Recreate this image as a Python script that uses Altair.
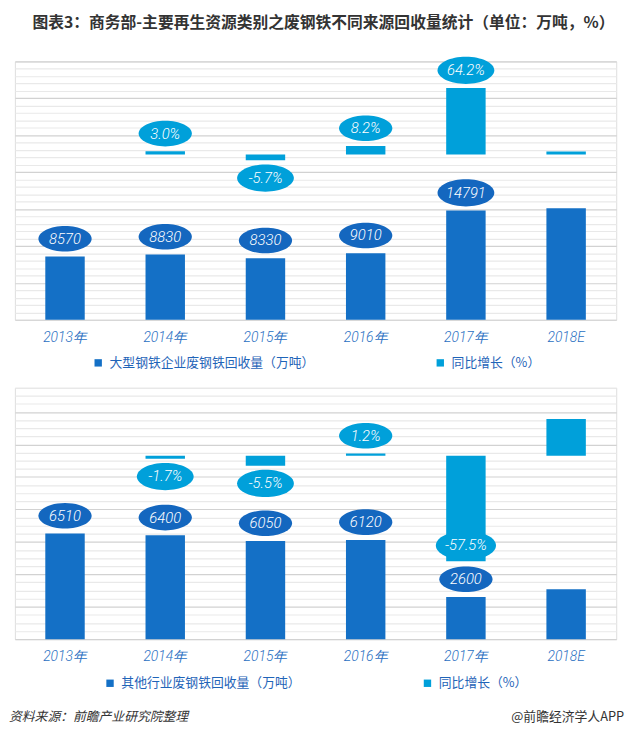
import altair as alt
import pandas as pd

# ---------------- data ----------------
years = ["2013年", "2014年", "2015年", "2016年", "2017年", "2018E"]

big_values = [8570, 8830, 8330, 9010, 14791, 15100]
big_value_labels = ["8570", "8830", "8330", "9010", "14791", ""]
big_growth = [None, 3.0, -5.7, 8.2, 64.2, 2.8]
big_growth_labels = ["", "3.0%", "-5.7%", "8.2%", "64.2%", ""]

other_values = [6510, 6400, 6050, 6120, 2600, 3080]
other_value_labels = ["6510", "6400", "6050", "6120", "2600", ""]
other_growth = [None, -1.7, -5.5, 1.2, -57.5, 20.0]
other_growth_labels = ["", "-1.7%", "-5.5%", "1.2%", "-57.5%", ""]

series_big = "大型钢铁企业废钢铁回收量（万吨）"
series_other = "其他行业废钢铁回收量（万吨）"
series_growth = "同比增长（%）"

title_text = "图表3：商务部-主要再生资源类别之废钢铁不同来源回收量统计（单位：万吨，%）"
source_text = "资料来源：前瞻产业研究院整理"
brand_text = "@前瞻经济学人APP"

# ---------------- styles ----------------
BAR_DARK = "#1470c6"
ELL_DARK = "#1467bf"
BAR_LIGHT = "#00a0da"
LABEL_BLUE = "#1f64b8"
CJK = "Noto Sans CJK SC"
NUM_FONT = "Roboto"
ELLIPSE = "M-1,0A1,0.48,0,1,0,1,0A1,0.48,0,1,0,-1,0Z"
W = 610


def panel(values, vlabels, growth, glabels, series_name, vmax, vmajor, vminor,
          gdomain, height, legend_x, legend_y, col_pad, inside_years, footer=False):
    df = pd.DataFrame({"year": years, "value": values, "vlabel": vlabels,
                       "growth": growth, "glabel": glabels})
    base = alt.Chart(df)

    x = alt.X("year:N", sort=years, title=None,
              scale=alt.Scale(paddingInner=0.1, paddingOuter=0.05),
              axis=alt.Axis(labelAngle=0, labelFont=NUM_FONT, labelFontStyle="italic",
                            labelFontWeight=300, labelFontSize=14, labelColor="#2a6fc2",
                            ticks=False, tickSize=0, domain=False, grid=False,
                            labelPadding=11))

    yv = alt.Y("value:Q", title=None,
               scale=alt.Scale(domain=[0, vmax], nice=False, zero=True),
               axis=alt.Axis(values=list(range(0, vmax + 1, vminor)), labels=False,
                             ticks=False, domain=False, grid=True, gridWidth=1.2,
                             gridColor={"condition": {"test": f"datum.value % {vmajor} === 0",
                                                      "value": "#d2d2d2"},
                                        "value": "#e9e9e9"}))
    yg = alt.Y("growth:Q", title=None,
               scale=alt.Scale(domain=gdomain, nice=False, zero=False), axis=None)

    cscale = alt.Scale(domain=[series_name, series_growth], range=[BAR_DARK, BAR_LIGHT])
    legend = alt.Legend(orient="none", legendX=legend_x, legendY=legend_y,
                        direction="horizontal", title=None, symbolType="square",
                        symbolSize=56, symbolStrokeWidth=0, labelFont=CJK,
                        labelFontSize=13, labelColor=LABEL_BLUE, columnPadding=col_pad,
                        labelOffset=5, padding=0, labelLimit=400)
    color = alt.Color("series:N", scale=cscale, legend=legend)
    size = alt.Size("n:Q", scale=alt.Scale(domain=[4, 6], range=[2916, 3721]), legend=None)

    vbars = base.mark_bar(size=40).encode(x=x, y=yv, color=color).transform_calculate(
        series=f"'{series_name}'")
    vlab = base.transform_filter("datum.vlabel != ''").transform_calculate(
        n="length(datum.vlabel)")
    vell = vlab.mark_point(shape=ELLIPSE, filled=True, opacity=1, color=ELL_DARK,
                           yOffset=-18).encode(x=x, y=yv, size=size)
    vtxt = vlab.mark_text(dy=-18, font=NUM_FONT, fontStyle="italic", fontWeight=300,
                          fontSize=15, color="white", baseline="middle").encode(
        x=x, y=yv, text="vlabel:N")
    value_layer = alt.layer(vbars, vell, vtxt)

    gbars = base.mark_bar(size=40).encode(x=x, y=yg, color=color).transform_calculate(
        series=f"'{series_growth}'")
    layers = [gbars]
    inside = "[" + ",".join(f"'{y}'" for y in inside_years) + "]"
    groups = [
        (f"datum.glabel != '' && datum.growth > 0", -18),
        (f"datum.glabel != '' && datum.growth < 0 && indexof({inside}, datum.year) < 0", 18),
        (f"datum.glabel != '' && indexof({inside}, datum.year) >= 0", -16),
    ]
    for test, off in groups:
        g = base.transform_filter(test).transform_calculate(n="length(datum.glabel)")
        layers.append(g.mark_point(shape=ELLIPSE, filled=True, opacity=1, color=BAR_LIGHT,
                                   yOffset=off).encode(x=x, y=yg, size=size))
        layers.append(g.mark_text(dy=off, font=NUM_FONT, fontStyle="italic", fontWeight=300,
                                  fontSize=15, color="white", baseline="middle").encode(
            x=x, y=yg, text="glabel:N"))
    growth_layer = alt.layer(*layers)

    parts = [value_layer, growth_layer]
    if footer:
        fdf = pd.DataFrame({"k": [0]})
        fl = alt.Chart(fdf).mark_text(align="left", baseline="middle", font=CJK,
                                      fontStyle="italic", fontSize=13, color="#333333").encode(
            x=alt.value(-6), y=alt.value(height + 79), text=alt.value(source_text))
        fr = alt.Chart(fdf).mark_text(align="right", baseline="middle", font=CJK,
                                      fontSize=13, color="#333333").encode(
            x=alt.value(618), y=alt.value(height + 79), text=alt.value(brand_text))
        parts += [fl, fr]
    return alt.layer(*parts).resolve_scale(y="independent").properties(width=W, height=height)


top = panel(big_values, big_value_labels, big_growth, big_growth_labels, series_big,
            35000, 5000, 1000, [-160, 90], 262, 78, 299, 120, [])
bottom = panel(other_values, other_value_labels, other_growth, other_growth_labels, series_other,
               15500, 2000, 500, [-100, 37], 255, 90, 293, 121, ["2017年"], footer=True)

chart = alt.vconcat(top, bottom, spacing=16).resolve_scale(
    color="independent", x="independent", y="independent", size="independent"
).resolve_legend(color="independent").properties(
    title=alt.TitleParams(title_text, font=CJK, fontSize=16, fontWeight="bold",
                          color="#333333", anchor="middle", offset=26, dx=7),
    padding={"left": 0, "top": 1, "right": 8, "bottom": 5},
).configure_view(stroke=None).configure(background="white")

chart.save("out.html", embed_options={"renderer": "svg", "actions": False})
